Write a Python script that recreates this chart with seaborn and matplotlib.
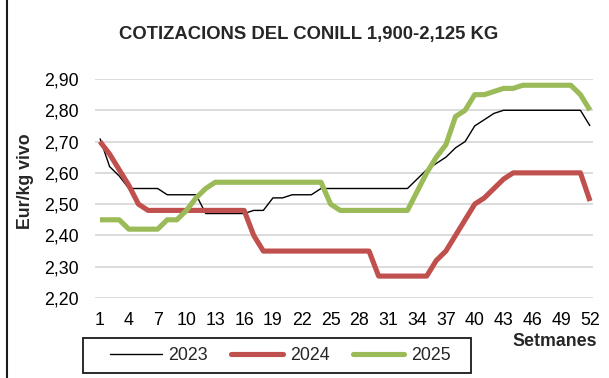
import matplotlib
matplotlib.use("Agg")
import matplotlib.pyplot as plt
from matplotlib.patches import Rectangle
from matplotlib.lines import Line2D
import numpy as np
import pandas as pd
import seaborn as sns

# Weekly rabbit prices (EUR/kg live weight), weeks 1-52
weeks = list(range(1, 53))

price_2023 = [2.71, 2.62, 2.59, 2.55, 2.55, 2.55, 2.55, 2.53, 2.53, 2.53,
              2.53, 2.47, 2.47, 2.47, 2.47, 2.47, 2.48, 2.48, 2.52, 2.52,
              2.53, 2.53, 2.53, 2.55, 2.55, 2.55, 2.55, 2.55, 2.55, 2.55,
              2.55, 2.55, 2.55, 2.58, 2.61, 2.63, 2.65, 2.68, 2.70, 2.75,
              2.77, 2.79, 2.80, 2.80, 2.80, 2.80, 2.80, 2.80, 2.80, 2.80,
              2.80, 2.75]

price_2024 = [2.70, 2.66, 2.61, 2.56, 2.50, 2.48, 2.48, 2.48, 2.48, 2.48,
              2.48, 2.48, 2.48, 2.48, 2.48, 2.48, 2.40, 2.35, 2.35, 2.35,
              2.35, 2.35, 2.35, 2.35, 2.35, 2.35, 2.35, 2.35, 2.35, 2.27,
              2.27, 2.27, 2.27, 2.27, 2.27, 2.32, 2.35, 2.40, 2.45, 2.50,
              2.52, 2.55, 2.58, 2.60, 2.60, 2.60, 2.60, 2.60, 2.60, 2.60,
              2.60, 2.51]

price_2025 = [2.45, 2.45, 2.45, 2.42, 2.42, 2.42, 2.42, 2.45, 2.45, 2.48,
              2.52, 2.55, 2.57, 2.57, 2.57, 2.57, 2.57, 2.57, 2.57, 2.57,
              2.57, 2.57, 2.57, 2.57, 2.50, 2.48, 2.48, 2.48, 2.48, 2.48,
              2.48, 2.48, 2.48, 2.54, 2.60, 2.65, 2.69, 2.78, 2.80, 2.85,
              2.85, 2.86, 2.87, 2.87, 2.88, 2.88, 2.88, 2.88, 2.88, 2.88,
              2.85, 2.80]

series_names = ["2023", "2024", "2025"]
y_ticks = [2.20, 2.30, 2.40, 2.50, 2.60, 2.70, 2.80, 2.90]
y_tick_labels = ["2,20", "2,30", "2,40", "2,50", "2,60", "2,70", "2,80", "2,90"]
x_ticks = list(range(1, 53, 3))

title = "COTIZACIONS DEL CONILL 1,900-2,125 KG"
y_label = "Eur/kg vivo"
x_label = "Setmanes"

df = pd.DataFrame({
    "week": weeks * 3,
    "price": price_2023 + price_2024 + price_2025,
    "year": [n for n in series_names for _ in weeks],
})

sns.set_theme(style="white")
plt.rcParams["font.family"] = ["Liberation Sans", "DejaVu Sans"]

W, H = 609, 378
fig = plt.figure(figsize=(W / 100, H / 100), dpi=100)
ax = fig.add_axes([95 / W, 1 - 298 / H, 498 / W, 219 / H])

styles = {
    "2023": dict(color="#000000", lw=1.0),
    "2024": dict(color="#C0504D", lw=3.7),
    "2025": dict(color="#9BBB59", lw=3.7),
}

for name in series_names:
    sub = df[df["year"] == name]
    sns.lineplot(data=sub, x="week", y="price", ax=ax, color=styles[name]["color"],
                 linewidth=styles[name]["lw"], solid_joinstyle="round",
                 solid_capstyle="butt", clip_on=False, legend=False, zorder=3)

ax.set_xlim(0.48, 52.31)
ax.set_ylim(2.2, 2.9)
ax.set_yticks(y_ticks)
ax.set_yticklabels(y_tick_labels)
ax.set_xticks(x_ticks)
ax.set_xticklabels([str(t) for t in x_ticks])
ax.tick_params(axis="both", length=0, labelsize=12.8, colors="#000000")
ax.tick_params(axis="y", pad=12)
ax.tick_params(axis="x", pad=10)
ax.set_xlabel("")
ax.set_ylabel("")
for s in ax.spines.values():
    s.set_visible(False)
ax.grid(axis="y", color="#D9D9D9", linewidth=1.3)
ax.grid(axis="x", visible=False)
ax.set_facecolor("white")

# Outer chart frame
fig.patches.append(Rectangle((7 / W, -0.2), 1.3, 1.2 + (1 - 11 / H), transform=fig.transFigure,
                             fill=False, edgecolor="#1a1a1a", linewidth=1.5))

fig.text(309 / W, 1 - 34 / H, title, ha="center", va="center",
         fontsize=13.3, fontweight="bold")
fig.text(25.5 / W, 1 - 181 / H, y_label, ha="center", va="center",
         rotation=90, fontsize=12.8, fontweight="bold")
fig.text(597 / W, 1 - 341 / H, x_label, ha="right", va="center",
         fontsize=12.8, fontweight="bold")

# Legend with a separate square frame
handles = [Line2D([], [], color=styles[n]["color"], linewidth=styles[n]["lw"],
                  solid_capstyle="round") for n in series_names]
fig.legend(handles, series_names, loc="center", ncol=3, frameon=False,
           bbox_to_anchor=(280.5 / W, 1 - 355.5 / H), fontsize=12.8,
           handlelength=2.9, handletextpad=0.4, columnspacing=1.3, borderpad=0)
fig.patches.append(Rectangle((83 / W, 1 - 373 / H), (471 - 83) / W, (373 - 338) / H,
                             transform=fig.transFigure, fill=False,
                             edgecolor="#1a1a1a", linewidth=1.3))

fig.savefig("out.png", dpi=100, facecolor="white")
